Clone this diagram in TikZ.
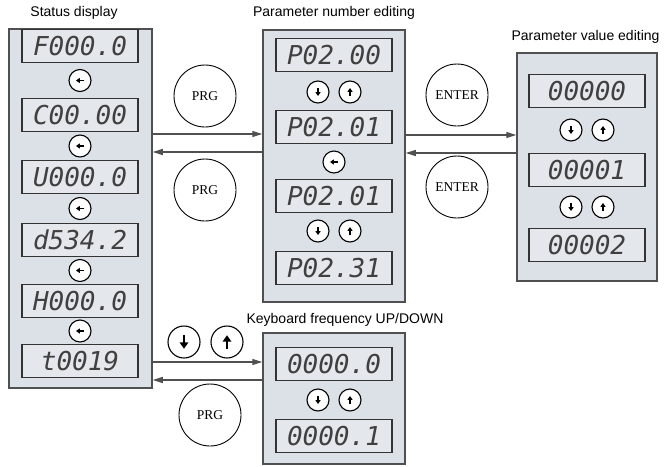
\documentclass[tikz,border=0pt]{standalone}
\usepackage{fontspec}
\setmainfont{Liberation Sans}
\newfontfamily\keyfont{Liberation Serif}
\newfontfamily\segfont{DejaVu Sans Mono}
\usetikzlibrary{positioning,arrows.meta}

\definecolor{panelgray}{HTML}{DCE0E7}
\definecolor{lcdgray}{HTML}{E4E7EC}
\definecolor{edgegray}{HTML}{505050}

\tikzset{
  panel/.style={draw=edgegray, line width=1.5pt, fill=panelgray, inner sep=0pt},
  lcd/.style={draw=black!80, line width=1.1pt, fill=lcdgray, minimum width=116pt,
    minimum height=33pt, inner sep=0pt, text=black!75,
    font=\segfont\itshape\fontsize{26}{26}\selectfont},
  title/.style={font=\fontsize{14}{16}\selectfont},
  bigkey/.style={circle, draw, line width=0.9pt, fill=white, minimum size=62pt,
    inner sep=0pt, font=\keyfont\fontsize{13.5}{15}\selectfont},
  btn/.style={circle, draw, line width=1.1pt, fill=white, minimum size=22pt, inner sep=0pt},
  btnarrow/.style={line width=#1*1.2pt, -{Triangle[length=0pt 3.2, width=0pt 4.2]}},
  keydown/.style={btn, path picture={\draw[btnarrow=#1, shift={(path picture bounding box.center)}] (0,-4*#1) -- (0,4*#1);}},
  keydown/.default=1,
  keyup/.style={btn, path picture={\draw[btnarrow=#1, shift={(path picture bounding box.center)}] (0,4*#1) -- (0,-4*#1);}},
  keyup/.default=1,
  keyshift/.style={btn, path picture={\draw[btnarrow=#1, shift={(path picture bounding box.center)}] (4*#1,0) -- (-4*#1,0);}},
  keyshift/.default=1,
  flow/.style={draw=edgegray, line width=1.2pt, -{Triangle[length=10pt,width=6pt]}},
}

\begin{document}
\begin{tikzpicture}[x=1pt, y=-1pt]
  \useasboundingbox (0,0) rectangle (664,466);

  % panels
  \node[panel, minimum width=143pt, minimum height=359pt] (sd) at (80.5,208.5) {};
  \node[panel, minimum width=142pt, minimum height=272pt] (pn) at (334,166) {};
  \node[panel, minimum width=140pt, minimum height=228pt] (pv) at (587,167) {};
  \node[panel, minimum width=142pt, minimum height=131pt] (kb) at (334,398.5) {};

  \node[title] (sdt) at (74,13) {Status display};
  \node[title] (pnt) at (334,13) {Parameter number editing};
  \node[title, anchor=east] (pvt) at (663,37) {Parameter value editing};
  \node[title] (kbt) at (345,320) {Keyboard frequency UP/DOWN};

  % status display
  \node[lcd] (sd1) at (80,46) {F000.0};
  \node[keyshift] (sdk1) at (80,80.5) {};
  \node[lcd] (sd2) at (80,115) {C00.00};
  \node[keyshift] (sdk2) at (80,146) {};
  \node[lcd] (sd3) at (80,177) {U000.0};
  \node[keyshift] (sdk3) at (80,208.5) {};
  \node[lcd] (sd4) at (80,240) {d534.2};
  \node[keyshift] (sdk4) at (80,270.5) {};
  \node[lcd] (sd5) at (80,301) {H000.0};
  \node[keyshift] (sdk5) at (80,331) {};
  \node[lcd] (sd6) at (80,361) {t0019};

  % parameter number
  \node[lcd] (pn1) at (334,55) {P02.00};
  \node[keydown] (pnd1) at (318,92) {};
  \node[keyup] (pnu1) at (350,92) {};
  \node[lcd] (pn2) at (334,127) {P02.01};
  \node[keyshift] (pnk) at (334,162) {};
  \node[lcd] (pn3) at (334,196) {P02.01};
  \node[keydown] (pnd2) at (318,231) {};
  \node[keyup] (pnu2) at (350,231) {};
  \node[lcd] (pn4) at (334,268) {P02.31};

  % parameter value
  \node[lcd] (pv1) at (587,91) {00000};
  \node[keydown] (pvd1) at (571,130) {};
  \node[keyup] (pvu1) at (603,130) {};
  \node[lcd] (pv2) at (587,170) {00001};
  \node[keydown] (pvd2) at (571,207) {};
  \node[keyup] (pvu2) at (603,207) {};
  \node[lcd] (pv3) at (587,245) {00002};

  % keyboard frequency
  \node[lcd] (kb1) at (334,364) {0000.0};
  \node[keydown] (kbd) at (318,400) {};
  \node[keyup] (kbu) at (350,400) {};
  \node[lcd] (kb2) at (334,436) {0000.1};

  % keys between panels
  \node[bigkey] (prg1) at (205,96) {PRG};
  \node[bigkey] (prg2) at (205,190) {PRG};
  \node[bigkey] (ent1) at (457,95) {ENTER};
  \node[bigkey] (ent2) at (457,187) {ENTER};
  \node[bigkey] (prg3) at (210,415) {PRG};
  \node[keydown=1.7, minimum size=32pt] (dn) at (184,342) {};
  \node[keyup=1.7, minimum size=32pt] (up) at (227,342) {};

  \draw[flow] (sd.east |- 0,134) -- (pn.west |- 0,134);
  \draw[flow] (pn.west |- 0,152) -- (sd.east |- 0,152);
  \draw[flow] (pn.east |- 0,135) -- (pv.west |- 0,135);
  \draw[flow] (pv.west |- 0,153) -- (pn.east |- 0,153);
  \draw[flow] (sd.east |- 0,362) -- (kb.west |- 0,362);
  \draw[flow] (kb.west |- 0,380) -- (sd.east |- 0,380);
\end{tikzpicture}
\end{document}
